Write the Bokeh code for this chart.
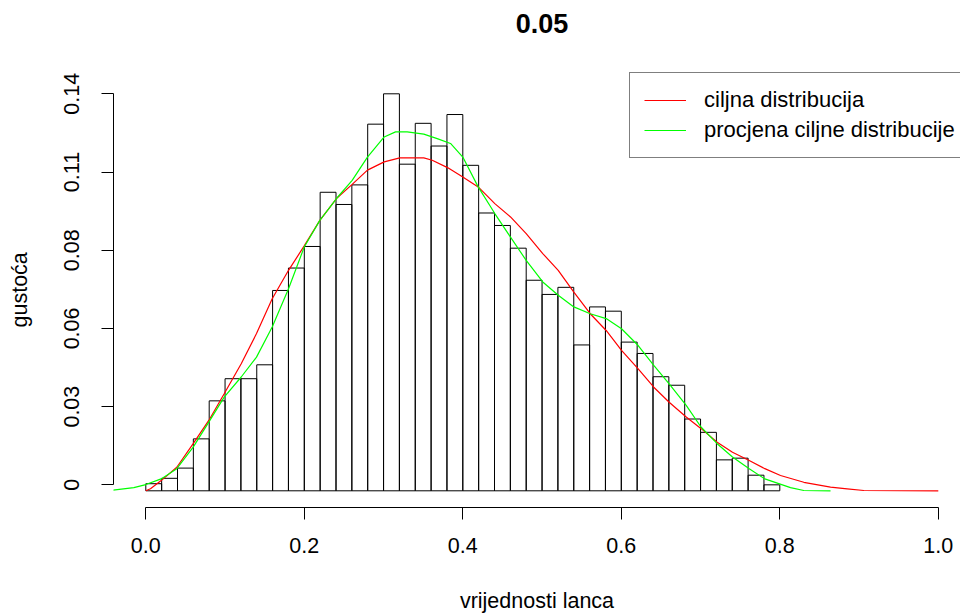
import numpy as np
from bokeh.plotting import figure
from bokeh.models import FixedTicker, PrintfTickFormatter, Range1d, Legend, LegendItem, Label
from bokeh.embed import file_html
from bokeh.resources import INLINE

# ---- data ----
bin_edges = [round(0.02 * i, 2) for i in range(41)]
bar_heights = [0.0025, 0.0044, 0.0080, 0.0183, 0.0317, 0.0395, 0.0395, 0.0444, 0.0706, 0.0785,
               0.0861, 0.1052, 0.1009, 0.1078, 0.1292, 0.1399, 0.1151, 0.1295, 0.1215, 0.1326,
               0.1147, 0.0979, 0.0935, 0.0855, 0.0742, 0.0692, 0.0717, 0.0514, 0.0648, 0.0633,
               0.0524, 0.0484, 0.0402, 0.0372, 0.0253, 0.0206, 0.0109, 0.0115, 0.0055, 0.0021]

target_x = [0.000, 0.0059, 0.0194, 0.0391, 0.0598, 0.0795, 0.0989, 0.1204, 0.1397, 0.1595,
            0.1801, 0.1999, 0.2196, 0.2406, 0.2604, 0.2797, 0.3008, 0.3205, 0.3508, 0.3614,
            0.3807, 0.4000, 0.4194, 0.4404, 0.4602, 0.4800, 0.5009, 0.5204, 0.5401, 0.5608,
            0.5809, 0.6003, 0.6213, 0.6410, 0.6604, 0.6819, 0.7008, 0.7210, 0.7403, 0.7614,
            0.7811, 0.8009, 0.8303, 0.8640, 0.8850, 0.9060, 1.0000]
target_y = [0.0000, 0.0007, 0.0036, 0.0083, 0.0166, 0.0248, 0.0342, 0.0448, 0.0554, 0.0677,
            0.0777, 0.0863, 0.0953, 0.1030, 0.1080, 0.1130, 0.1159, 0.1173, 0.1173, 0.1165,
            0.1139, 0.1106, 0.1071, 0.1012, 0.0965, 0.0906, 0.0836, 0.0777, 0.0700, 0.0624,
            0.0565, 0.0495, 0.0430, 0.0365, 0.0312, 0.0260, 0.0219, 0.0171, 0.0136, 0.0107,
            0.0078, 0.0054, 0.0030, 0.0013, 0.0007, 0.0001, 0.0000]

estimate_x = [-0.0500, -0.0151, 0.0000, 0.0194, 0.0391, 0.0598, 0.0795, 0.0989, 0.1204, 0.1397,
              0.1595, 0.1801, 0.1999, 0.2196, 0.2406, 0.2604, 0.2797, 0.3008, 0.3151, 0.3298,
              0.3508, 0.3677, 0.3845, 0.4000, 0.4194, 0.4404, 0.4602, 0.4800, 0.5009, 0.5204,
              0.5401, 0.5608, 0.5809, 0.6003, 0.6213, 0.6410, 0.6604, 0.6819, 0.7008, 0.7210,
              0.7403, 0.7614, 0.7811, 0.8135, 0.8303, 0.8640]
estimate_y = [0.0000, 0.0011, 0.0022, 0.0042, 0.0078, 0.0154, 0.0242, 0.0330, 0.0401, 0.0471,
              0.0577, 0.0712, 0.0859, 0.0953, 0.1030, 0.1094, 0.1176, 0.1247, 0.1265, 0.1265,
              0.1257, 0.1241, 0.1224, 0.1176, 0.1071, 0.0977, 0.0894, 0.0812, 0.0736, 0.0689,
              0.0648, 0.0624, 0.0607, 0.0571, 0.0512, 0.0442, 0.0377, 0.0301, 0.0224, 0.0166,
              0.0119, 0.0078, 0.0042, 0.0011, 0.0001, 0.0000]

x_tick_values = [0.0, 0.2, 0.4, 0.6, 0.8, 1.0]
title_text = "0.05"
x_label = "vrijednosti lanca"
y_label = "gustoća"
legend_labels = ["ciljna distribucija", "procjena ciljne distribucije"]

FONT = "Liberation Sans"
FS = "21.5px"

# y ticks as in the original: 6 evenly spaced values between min and max bar height
y_tick_values = list(np.linspace(min(bar_heights), max(bar_heights), 6))
y_tick_labels = {v: f"{round(v, 2):g}" for v in y_tick_values}

# ---- layout geometry (pixels) ----
W, H = 960, 616
FL, FT, FB = 113, 0, 507           # frame left / top / bottom (frame reaches the top so the title fits inside)
X0_PX, XSCALE = 145.3, 792.5       # pixel of x=0, pixels per unit
Y0_PX, YSCALE = 490.3, 2837.7      # pixel of y=0, pixels per unit


def x_at(px):
    return (px - X0_PX) / XSCALE


def y_at(py):
    return (Y0_PX - py) / YSCALE


p = figure(width=W, height=H, output_backend="svg", toolbar_location=None,
           min_border_left=FL, min_border_right=0, min_border_top=FT, min_border_bottom=H - FB)
p.x_range = Range1d(x_at(FL), x_at(W))
p.y_range = Range1d(y_at(FB), y_at(FT))

p.background_fill_color = "white"
p.border_fill_color = "white"
p.outline_line_color = None
p.grid.visible = False

# histogram
p.quad(left=bin_edges[:-1], right=bin_edges[1:], bottom=0, top=bar_heights,
       fill_color=None, line_color="black", line_width=1)

r_red = p.line(target_x, target_y, line_color="#ff0000", line_width=1.2)
r_green = p.line(estimate_x, estimate_y, line_color="#00ff00", line_width=1.2)

# axes, R style
for ax in (p.xaxis[0], p.yaxis[0]):
    ax.axis_line_color = "black"
    ax.major_tick_line_color = "black"
    ax.major_tick_out = 12
    ax.major_tick_in = 0
    ax.minor_tick_line_color = None
    ax.major_label_text_font = FONT
    ax.major_label_text_font_size = FS
    ax.major_label_text_color = "black"
    ax.axis_label_text_font = FONT
    ax.axis_label_text_font_size = FS
    ax.axis_label_text_font_style = "normal"
    ax.axis_label_text_color = "black"

p.xaxis.ticker = FixedTicker(ticks=x_tick_values)
p.xaxis.formatter = PrintfTickFormatter(format="%.1f")
p.xaxis.bounds = (x_tick_values[0], x_tick_values[-1])
p.xaxis.major_label_standoff = 18
p.xaxis.axis_label = x_label
p.xaxis.axis_label_standoff = 33

p.yaxis.ticker = FixedTicker(ticks=y_tick_values)
p.yaxis.major_label_overrides = y_tick_labels
p.yaxis.bounds = (y_tick_values[0], y_tick_values[-1])
p.yaxis.major_label_orientation = "vertical"
p.yaxis.major_label_standoff = 22
# the frame reaches the top of the canvas, so non-breaking spaces after the label
# bring the visible word back to the middle of the R plotting region
p.yaxis.axis_label = y_label + "\u00a0" * 12
p.yaxis.axis_label_standoff = 30

# main title, centred over the plotting region like R's
p.add_layout(Label(x=0.5, y=y_at(22.5), text=title_text, text_align="center",
                   text_baseline="middle", text_font=FONT, text_font_size="27px",
                   text_font_style="bold", text_color="black"))

legend = Legend(items=[LegendItem(label=legend_labels[0], renderers=[r_red]),
                       LegendItem(label=legend_labels[1], renderers=[r_green])],
                location=(629 - FL, FB - 158))
legend.border_line_color = "black"
legend.border_line_width = 1
legend.background_fill_color = "white"
legend.background_fill_alpha = 1
legend.label_text_font = FONT
legend.label_text_font_size = "22px"
legend.label_text_color = "black"
legend.glyph_width = 42
legend.label_standoff = 18
legend.padding = 14
legend.spacing = 4
legend.margin = 0
p.add_layout(legend)

open("out.html", "w").write(file_html(p, INLINE))
